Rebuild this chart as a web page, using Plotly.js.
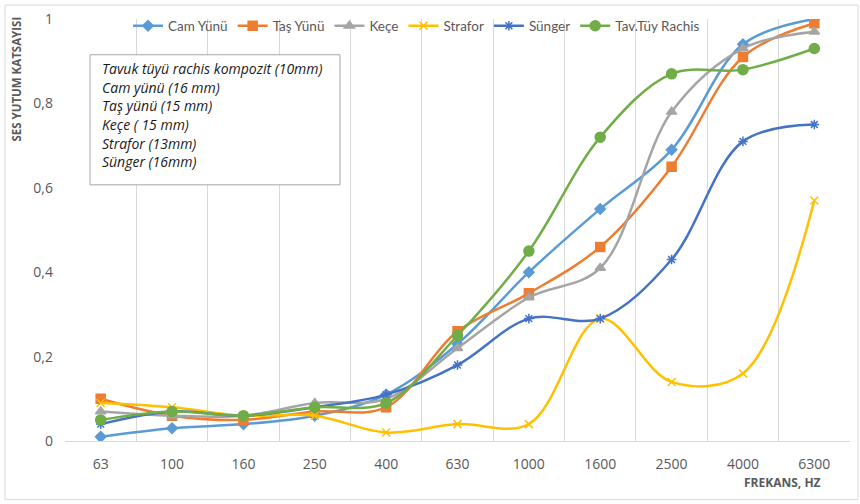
<!DOCTYPE html>
<html>
<head>
<meta charset="utf-8">
<script src="https://cdn.plot.ly/plotly-3.0.1.min.js"></script>
<style>html,body{margin:0;padding:0;background:#fff;}#chart{width:860px;height:504px;}</style>
</head>
<body>
<div id="chart"></div>
<script>
const frequencies = ["63","100","160","250","400","630","1000","1600","2500","4000","6300"];
const camYunu   = [0.01,0.03,0.04,0.06,0.11,0.23,0.40,0.55,0.69,0.94,1.00];
const tasYunu   = [0.10,0.06,0.05,0.07,0.08,0.26,0.35,0.46,0.65,0.91,0.99];
const kece      = [0.07,0.06,0.06,0.09,0.10,0.22,0.34,0.41,0.78,0.93,0.97];
const strafor   = [0.09,0.08,0.06,0.06,0.02,0.04,0.04,0.29,0.14,0.16,0.57];
const sunger    = [0.04,0.07,0.06,0.08,0.11,0.18,0.29,0.29,0.43,0.71,0.75];
const tavTuy    = [0.05,0.07,0.06,0.08,0.09,0.25,0.45,0.72,0.87,0.88,0.93];
const seriesNames = ["Cam Yünü","Taş Yünü","Keçe","Strafor","Sünger","Tav.Tüy Rachis"];
const boxLines = ["Tavuk tüyü rachis kompozit (10mm)","Cam yünü (16 mm)","Taş yünü (15 mm)","Keçe ( 15 mm)","Strafor (13mm)","Sünger (16mm)"];
const yTicks = [0,0.2,0.4,0.6,0.8,1];

const styles = [
  {color:"#5B9BD5", symbol:"diamond", size:8},
  {color:"#ED7D31", symbol:"square", size:9},
  {color:"#A5A5A5", symbol:"triangle-up", size:9},
  {color:"#FFC000", symbol:"x-thin-open", size:8},
  {color:"#4472C4", symbol:"asterisk-open", size:8},
  {color:"#70AD47", symbol:"circle", size:10}
];
const values = [camYunu,tasYunu,kece,strafor,sunger,tavTuy];

const traces = values.map((v,i)=>({
  type:"scatter", mode:"lines+markers", name:seriesNames[i],
  x:frequencies, y:v,
  line:{color:styles[i].color, width:2.5, shape:"spline", smoothing:1},
  marker:{color:styles[i].color, symbol:styles[i].symbol, size:styles[i].size,
          line:{color:styles[i].color, width:1.5}}
}));

// layout geometry helpers (pixels -> paper)
const L=65, R=10, T=16, B=63, W=860, H=504;
const pw=W-L-R, ph=H-T-B;
const px=x=>(x-L)/pw, py=y=>(H-B-y)/ph;

const annotations = boxLines.map((t,i)=>({
  xref:"paper", yref:"paper", x:px(100), y:py(66+i*18.8),
  xanchor:"left", yanchor:"middle", showarrow:false, align:"left",
  text:"<i>"+t+"</i>", font:{family:"Open Sans", size:14, color:"#1a1a1a"}
}));
annotations.push({
  xref:"paper", yref:"paper", x:px(17), y:py(77), textangle:-90,
  xanchor:"center", yanchor:"middle", showarrow:false,
  text:"<b>SES YUTUM KATSAYISI</b>", font:{family:"Open Sans", size:11.5, color:"#595959"}
});
annotations.push({
  xref:"paper", yref:"paper", x:px(782), y:py(483),
  xanchor:"center", yanchor:"middle", showarrow:false,
  text:"<b>FREKANS, HZ</b>", font:{family:"Open Sans", size:12, color:"#595959"}
});

const layout = {
  width:W, height:H,
  margin:{l:L, r:R, t:T, b:B, pad:0},
  paper_bgcolor:"#fff", plot_bgcolor:"rgba(0,0,0,0)",
  separators:",.",
  font:{family:"Open Sans", color:"#595959", size:13},
  showlegend:true,
  legend:{orientation:"h", x:px(128), y:py(23), xanchor:"left", yanchor:"middle",
          bgcolor:"rgba(0,0,0,0)", font:{family:"Lato", size:13.5, color:"#595959"},
          itemwidth:30, tracegroupgap:0},
  xaxis:{type:"category", tickson:"boundaries", showgrid:true, gridcolor:"#d9d9d9", gridwidth:1,
         showline:true, linecolor:"#d9d9d9", linewidth:1, ticks:"", zeroline:false,
         ticklabelstandoff:10,
         tickfont:{family:"Open Sans", size:14, color:"#595959"}, range:[-0.5,10.5], fixedrange:true},
  yaxis:{range:[0,1], tickvals:yTicks, showgrid:false, zeroline:false, showline:false,
         ticks:"", ticklabelstandoff:11,
         tickfont:{family:"Open Sans", size:14, color:"#595959"}},
  shapes:[
    {type:"rect", xref:"paper", yref:"paper", x0:px(90), x1:px(340), y0:py(183), y1:py(52),
     line:{color:"#a6a6a6", width:1}, fillcolor:"#ffffff", layer:"above"},
    {type:"rect", xref:"paper", yref:"paper", x0:px(5), x1:px(858), y0:py(500), y1:py(2),
     line:{color:"#d9d9d9", width:1}, fillcolor:"rgba(0,0,0,0)", layer:"below"}
  ],
  annotations:annotations
};
Plotly.newPlot("chart", traces, layout, {displayModeBar:false, staticPlot:true});
</script>
</body>
</html>
